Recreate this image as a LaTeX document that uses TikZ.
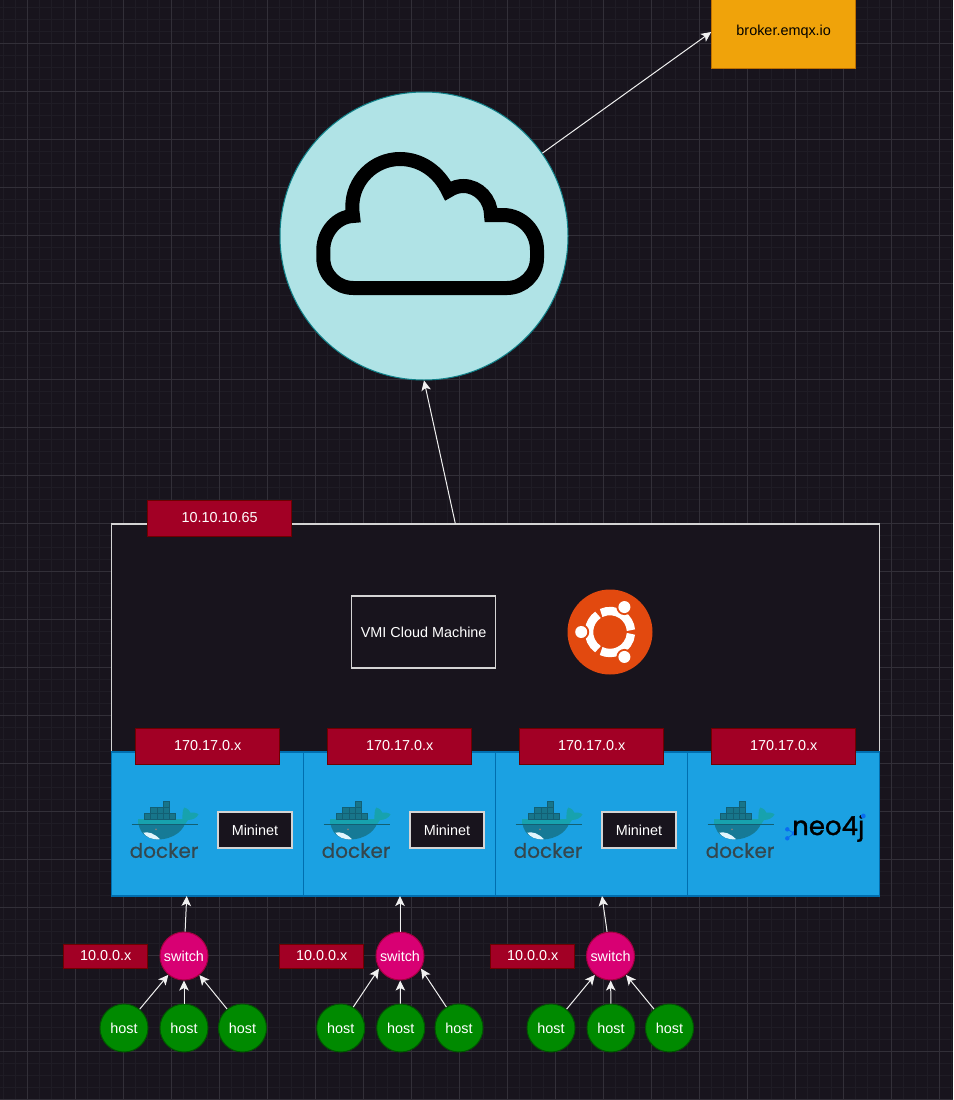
\documentclass[tikz,border=0pt]{standalone}
\usepackage{fontspec}
\setmainfont{Liberation Sans}
\newfontfamily\logofont[FakeBold=0.4]{Poppins}
\newfontfamily\neofont[FakeBold=1.2]{Poppins}
\usetikzlibrary{arrows.meta}
\definecolor{canvas}{HTML}{18141D}
\definecolor{gridminor}{HTML}{1F1C25}
\definecolor{gridmajor}{HTML}{322F38}
\definecolor{arrowgrey}{HTML}{F0F0F0}
\definecolor{tagfill}{HTML}{A20025}
\definecolor{tagline}{HTML}{6F0000}
\definecolor{dockfill}{HTML}{1BA1E2}
\definecolor{dockline}{HTML}{006EAF}
\definecolor{brokerfill}{HTML}{F0A30A}
\definecolor{brokerline}{HTML}{BD7000}
\definecolor{cloudfill}{HTML}{B0E3E6}
\definecolor{cloudline}{HTML}{0E8088}
\definecolor{hostfill}{HTML}{008A00}
\definecolor{hostline}{HTML}{005700}
\definecolor{switchfill}{HTML}{D80073}
\definecolor{switchline}{HTML}{A50040}
\definecolor{boxline}{HTML}{D4D4D4}
\definecolor{whaledark}{HTML}{167A96}
\definecolor{whalelight}{HTML}{17A2AE}
\definecolor{crate}{HTML}{17758A}
\definecolor{crateline}{HTML}{135F73}
\definecolor{dockertext}{HTML}{34474E}
\definecolor{ubuntuorange}{HTML}{E2490F}
\definecolor{neoblue}{HTML}{0A6CF0}
\tikzset{
  every node/.style={font=\fontsize{14.4}{16}\selectfont, inner sep=0pt},
  arr/.style={draw=arrowgrey, line width=1pt, -{Stealth[length=10pt,width=9.5pt,inset=2.5pt]}},
  tag/.style={draw=tagline, fill=tagfill, text=white, line width=1pt, minimum width=144pt, minimum height=36pt},
  smalltag/.style={tag, minimum width=84pt, minimum height=24pt},
  darkbox/.style={draw=boxline, fill=canvas, text=white, line width=1.3pt},
  dockbox/.style={draw=dockline, fill=dockfill, line width=1.2pt, minimum width=192pt, minimum height=144pt},
  hostnode/.style={circle, draw=hostline, fill=hostfill, text=white, line width=1pt, minimum size=48pt},
  switchnode/.style={circle, draw=switchline, fill=switchfill, text=white, line width=1pt, minimum size=48pt},
  dockerlogo/.pic={
    % hull, then the deck band, tail and the belly
    \fill[whaledark] (28.3,39.3) -- (76,39.3)
      .. controls (75,50) and (64,59.5) .. (47,59.5)
      .. controls (36,59) and (28,52) .. (28.3,39.3) -- cycle;
    \fill[whalelight] (28.3,39.3) rectangle (75,44.3);
    \fill[whalelight] (72.5,40) .. controls (72.5,36) and (72,31) .. (74.2,27.5)
      .. controls (77.5,28.5) and (80,30.5) .. (80.5,32.8)
      .. controls (83,32) and (87,33) .. (88.5,34.3)
      .. controls (87,38) and (82,40) .. (78,40)
      -- (75,44.3) -- cycle;
    \fill[white!88!cyan] (33.3,52.7) .. controls (38,51.5) and (44,53) .. (50,59.2)
      .. controls (42,60) and (36,57) .. (33.3,52.7) -- cycle;
    \fill[gray] (46,49.3) circle [radius=1];
    \draw[crateline, line width=.5pt] (21.7,44.3) -- (88,44.3);
    % containers
    \foreach \cx/\cy in {34.3/33.2,40.5/33.2,46.7/33.2,52.9/33.2,59.1/33.2,40.5/27,46.7/27,52.9/27,52.9/20.8}
      \draw[crateline, fill=crate, line width=.4pt] (\cx,\cy) rectangle ++(6.2,6.2);
    \node[text=dockertext, font=\logofont\fontsize{20}{24}\selectfont] (-word) at (54,70.5) {docker};
  }
}
\begin{document}
\begin{tikzpicture}[x=1pt,y=-1pt]
\useasboundingbox (0,0) rectangle (953,1100);
\fill[canvas] (0,0) rectangle (953,1100);
% grid
\foreach \gx in {3.3,15.3,...,952}
  \draw[gridminor, line width=1.4pt] (\gx,0) -- (\gx,1100);
\foreach \gy in {7.3,19.3,...,1100}
  \draw[gridminor, line width=1.4pt] (0,\gy) -- (953,\gy);
\foreach \gx in {27.3,75.3,...,952}
  \draw[gridmajor, line width=.9pt] (\gx,0) -- (\gx,1100);
\foreach \gy in {43.3,91.3,...,1100}
  \draw[gridmajor, line width=.9pt] (0,\gy) -- (953,\gy);

% top
\node[draw=brokerline, fill=brokerfill, text=black, line width=1pt, minimum width=144pt, minimum height=72pt] (broker) at (783.7,32) {broker.emqx.io};
\node[circle, draw=cloudline, fill=cloudfill, line width=1pt, minimum size=288pt] (cloud) at (424,236) {};
\draw[black, line width=14pt, line join=miter, miter limit=10]
(353,216) .. controls (352.5,213) and (352.3,210) .. (352.3,206.7)
.. controls (352.3,180.4) and (373.7,159) .. (400,159)
.. controls (421,159) and (439,172) .. (448,191)
.. controls (454,187) and (459,186) .. (463.3,186)
.. controls (479,186) and (491,200) .. (491,215)
-- (503,215)
.. controls (522,215) and (537,231) .. (537,250)
-- (537,258)
.. controls (537,275) and (523,288) .. (507,288)
-- (353.3,288)
.. controls (337,288) and (323.3,275) .. (323.3,258)
-- (323.3,250)
.. controls (323.3,232) and (337,216.5) .. (353,216) -- cycle;

% machine
\node[darkbox, minimum width=768pt, minimum height=228pt] (machine) at (495.7,638) {};
\node[tag] (machinetag) at (219.7,518) {10.10.10.65};
\node[darkbox, minimum width=144pt, minimum height=72pt] (vmi) at (423.7,632) {VMI Cloud Machine};
\coordinate (machinetop) at (455.3,523.5);

% ubuntu
\node[circle, fill=ubuntuorange, minimum size=85pt] (ubuntu) at (610,632) {};
\foreach \a in {0,120,240}
  \draw[white, line width=8.4pt] (ubuntu.center) ++(\a+5:21) arc [start angle=\a+5, end angle=\a+115, radius=21];
\foreach \a in {60,180,300} {
  \fill[ubuntuorange] (ubuntu.center) ++(\a:28.8) circle [radius=8];
  \fill[white] (ubuntu.center) ++(\a:28.8) circle [radius=6];
}

% docker row
\foreach \n/\x in {1/207.7,2/399.7,3/591.7,4/783.7} {
  \node[dockbox] (dock\n) at (\x,824) {};
  \node[tag] (docktag\n) at (\x,746) {170.17.0.x};
}
\foreach \n/\x in {1/110,2/302,3/494,4/686}
  \pic (logo\n) at (\x,780) {dockerlogo};
\node[darkbox, minimum width=74pt, minimum height=36pt] (mininet1) at (255,830) {Mininet};
\node[darkbox, minimum width=74pt, minimum height=36pt] (mininet2) at (447,830) {Mininet};
\node[darkbox, minimum width=74pt, minimum height=36pt] (mininet3) at (639,830) {Mininet};

% neo4j
\draw[neoblue, line width=.8pt] (787.3,829.3) -- (794,833.3) -- (787.3,838.3);
\fill[neoblue] (787.3,829.3) circle [radius=2.2] (787.3,838.3) circle [radius=2.2] (794,833.3) circle [radius=2.2];
\node[anchor=base west, text=black, font=\neofont\fontsize{26}{28}\selectfont] (neo) at (792,835) {neo4j};
\fill[neoblue] (863.3,816) circle [radius=2.4];

% switches and hosts
\node[switchnode] (sw1) at (184,956) {switch};
\node[switchnode] (sw2) at (400,956) {switch};
\node[switchnode] (sw3) at (610.5,956) {switch};
\node[smalltag] (swtag1) at (105.7,956) {10.0.0.x};
\node[smalltag] (swtag2) at (321.7,956) {10.0.0.x};
\node[smalltag] (swtag3) at (532.7,956) {10.0.0.x};
\foreach \n/\x in {1/124,2/184,3/242.5,4/340.7,5/400.7,6/459,7/551,8/611,9/669.5}
  \node[hostnode] (h\n) at (\x,1028) {host};
\coordinate (in1) at (186.7,896);
\coordinate (in2) at (400,896);
\coordinate (in3) at (602,896);

% links
\draw[arr] (cloud.35) -- (broker.west);
\draw[arr] (machinetop) -- (cloud.south);
\draw[arr] (sw1) -- (in1);
\draw[arr] (sw2) -- (in2);
\draw[arr] (sw3) -- (in3);
\draw[arr] (h1) -- (sw1);
\draw[arr] (h2) -- (sw1);
\draw[arr] (h3) -- (sw1);
\draw[arr] (h4.59) -- (sw2.211);
\draw[arr] (h5) -- (sw2);
\draw[arr] (h6.121) -- (sw2.329);
\draw[arr] (h7) -- (sw3);
\draw[arr] (h8) -- (sw3);
\draw[arr] (h9) -- (sw3);
\end{tikzpicture}
\end{document}
